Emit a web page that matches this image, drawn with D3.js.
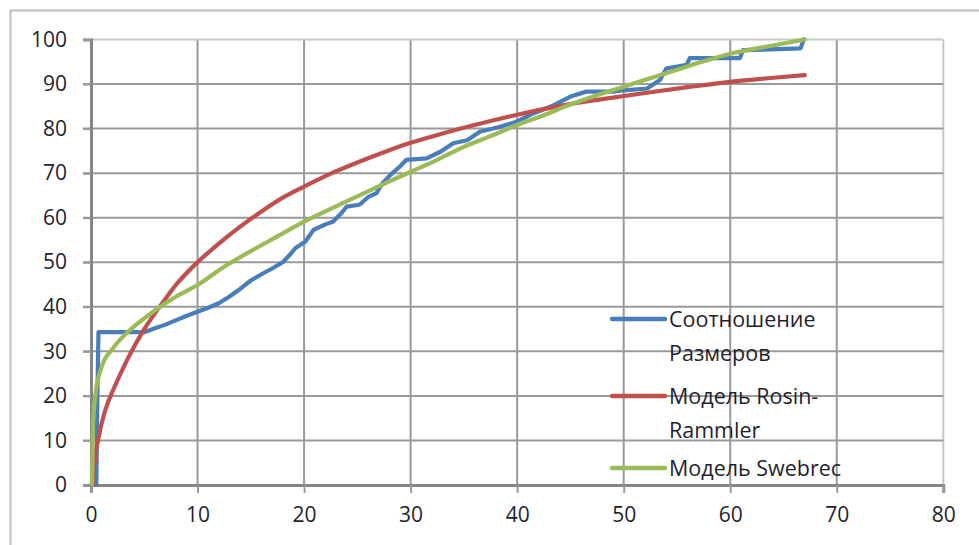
<!DOCTYPE html>
<html>
<head>
<meta charset="utf-8">
<script src="https://cdn.jsdelivr.net/npm/d3@7"></script>
<style>
  html, body { margin: 0; padding: 0; background: #fff; }
  svg { display: block; font-family: "Open Sans", sans-serif; }
</style>
</head>
<body>
<div id="chart"></div>
<script>
// Соотношение размеров (measured curve)
const sizeX = [0, 0.5, 0.6, 0.7, 5.0, 6, 7, 8, 9, 10, 11, 12, 13, 14, 15, 16, 17, 18, 18.6, 19.2,
  20.1, 20.9, 22, 22.7, 23.5, 24, 25.2, 26, 26.8, 27.3, 28.1, 29, 29.6, 31.5, 32.8, 34, 35.3, 36.5,
  38.4, 40, 41.5, 43.4, 45, 46.5, 49, 50, 52.2, 53.4, 54, 55.9, 56.2, 60.9, 61.2, 66.6, 66.9];
const sizeY = [0, 0, 20, 34.3, 34.3, 35.2, 36, 37, 38, 38.9, 39.8, 40.8, 42.3, 44, 45.9, 47.3, 48.6, 50, 51.5, 53.2,
  54.6, 57.3, 58.5, 59.1, 61, 62.5, 62.9, 64.6, 65.5, 67.5, 69.6, 71.5, 73, 73.3, 74.8, 76.7, 77.4, 79.3,
  80.4, 81.6, 83.4, 85.2, 87.2, 88.3, 88.3, 88.6, 89, 90.9, 93.5, 94.3, 95.8, 95.8, 97.6, 98.0, 100];

// Модель Rosin-Rammler
const rosinX = [0.2, 0.3, 0.7, 1.3, 2.3, 3.5, 5, 6.6, 8, 10, 12, 14, 16, 18, 20, 22.5, 25, 27.5, 30,
  33, 36, 40, 44, 48, 52, 56, 60, 63.5, 67];
const rosinY = [0, 4, 10.5, 16.5, 22.5, 28.6, 35, 40.5, 45, 50, 54.2, 58, 61.4, 64.5, 67, 69.9, 72.4, 74.7, 76.8,
  78.9, 80.8, 83.1, 85.1, 86.6, 88, 89.3, 90.5, 91.3, 92];

// Модель Swebrec
const swebX = [0.1, 0.2, 0.4, 1, 2, 3, 4, 5, 6.5, 8, 10, 12.5, 15, 17.5, 20, 22.5, 25, 27.5, 30, 32.5, 35,
  37.5, 40, 42.5, 45, 47.5, 50, 52.5, 55, 57.5, 60, 62.5, 65, 67];
const swebY = [0, 14, 20, 26.5, 30.5, 33.3, 35.5, 37.4, 40, 42.3, 44.9, 49, 52.5, 55.8, 59.1, 62, 64.8, 67.6, 70.3,
  73, 75.9, 78.3, 80.8, 83, 85.4, 87.5, 89.4, 91.3, 93.2, 95.1, 96.8, 98, 99.1, 100];

const xTicks = [0, 10, 20, 30, 40, 50, 60, 70, 80];
const yTicks = [0, 10, 20, 30, 40, 50, 60, 70, 80, 90, 100];

const seriesNames = ['Соотношение|Размеров', 'Модель Rosin-|Rammler', 'Модель Swebrec'];
const seriesColors = ['#4a7ebb', '#c0504d', '#9bbb59'];

const width = 979;
const height = 545;
const margin = {top: 39.5, right: 36, bottom: 60, left: 91};

const svg = d3.select('#chart')
  .append('svg')
  .attr('width', width)
  .attr('height', height);

// outer chart frame
svg.append('path')
  .attr('d', `M10.5,${height + 2}V10.5H${width + 2}`)
  .attr('fill', 'none')
  .attr('stroke', '#bfbfbf')
  .attr('stroke-width', 2);

const x = d3.scaleLinear().domain([0, 80]).range([margin.left, width - margin.right + 0.3]);
const y = d3.scaleLinear().domain([0, 100]).range([height - margin.bottom, margin.top]);

// grid
const grid = svg.append('g');
grid.selectAll('.gx')
  .data(xTicks.slice(1))
  .enter()
  .append('line')
  .attr('x1', (d) => x(d)).attr('x2', (d) => x(d))
  .attr('y1', y(100)).attr('y2', y(0))
  .attr('stroke', (d) => d === 80 ? '#c8c8c8' : '#9a9a9a')
  .attr('stroke-width', 2);
grid.selectAll('.gy')
  .data(yTicks.slice(1))
  .enter()
  .append('line')
  .attr('x1', x(0) - 8).attr('x2', x(80))
  .attr('y1', (d) => y(d)).attr('y2', (d) => y(d))
  .attr('stroke', (d) => d === 100 ? '#c8c8c8' : '#9a9a9a')
  .attr('stroke-width', 2);

// axes
const yAxis = svg.append('g')
  .attr('transform', `translate(${x(0)},0)`)
  .call(d3.axisLeft(y).tickValues(yTicks).tickSize(8).tickPadding(16));
const xAxis = svg.append('g')
  .attr('transform', `translate(0,${y(0)})`)
  .call(d3.axisBottom(x).tickValues(xTicks).tickSize(8).tickPadding(14));

[xAxis, yAxis].forEach((ax) => {
  ax.select('.domain').attr('stroke', '#858585').attr('stroke-width', 3);
  ax.selectAll('.tick line').attr('stroke', '#9a9a9a').attr('stroke-width', 2);
  ax.selectAll('.tick text')
    .attr('fill', '#1f1f2e')
    .style('font-size', '21px')
    .style('font-family', '"Open Sans", sans-serif');
});

// series
const line = d3.line()
  .x((d) => x(d[0]))
  .y((d) => y(d[1]));

const series = [
  {pts: d3.zip(sizeX, sizeY), curve: d3.curveLinear},
  {pts: d3.zip(rosinX, rosinY), curve: d3.curveMonotoneX},
  {pts: d3.zip(swebX, swebY), curve: d3.curveMonotoneX},
];

svg.append('g')
  .selectAll('path')
  .data(series)
  .enter()
  .append('path')
  .attr('d', (s) => line.curve(s.curve)(s.pts))
  .attr('fill', 'none')
  .attr('stroke', (s, i) => seriesColors[i])
  .attr('stroke-width', 4.2)
  .attr('stroke-linejoin', 'round')
  .attr('stroke-linecap', 'round');

// legend
const legendRows = [319, 396, 468];
const legend = svg.append('g');
seriesNames.forEach((name, i) => {
  legend.append('line')
    .attr('x1', 612).attr('x2', 665)
    .attr('y1', legendRows[i]).attr('y2', legendRows[i])
    .attr('stroke', seriesColors[i])
    .attr('stroke-width', 4.5)
    .attr('stroke-linecap', 'round');
  name.split('|').forEach((part, j) => {
    legend.append('text')
      .attr('x', 669)
      .attr('y', legendRows[i] + 7.5 + j * 34)
      .attr('fill', '#1f1f2e')
      .style('font-size', '21.5px')
      .text(part);
  });
});
</script>
</body>
</html>
